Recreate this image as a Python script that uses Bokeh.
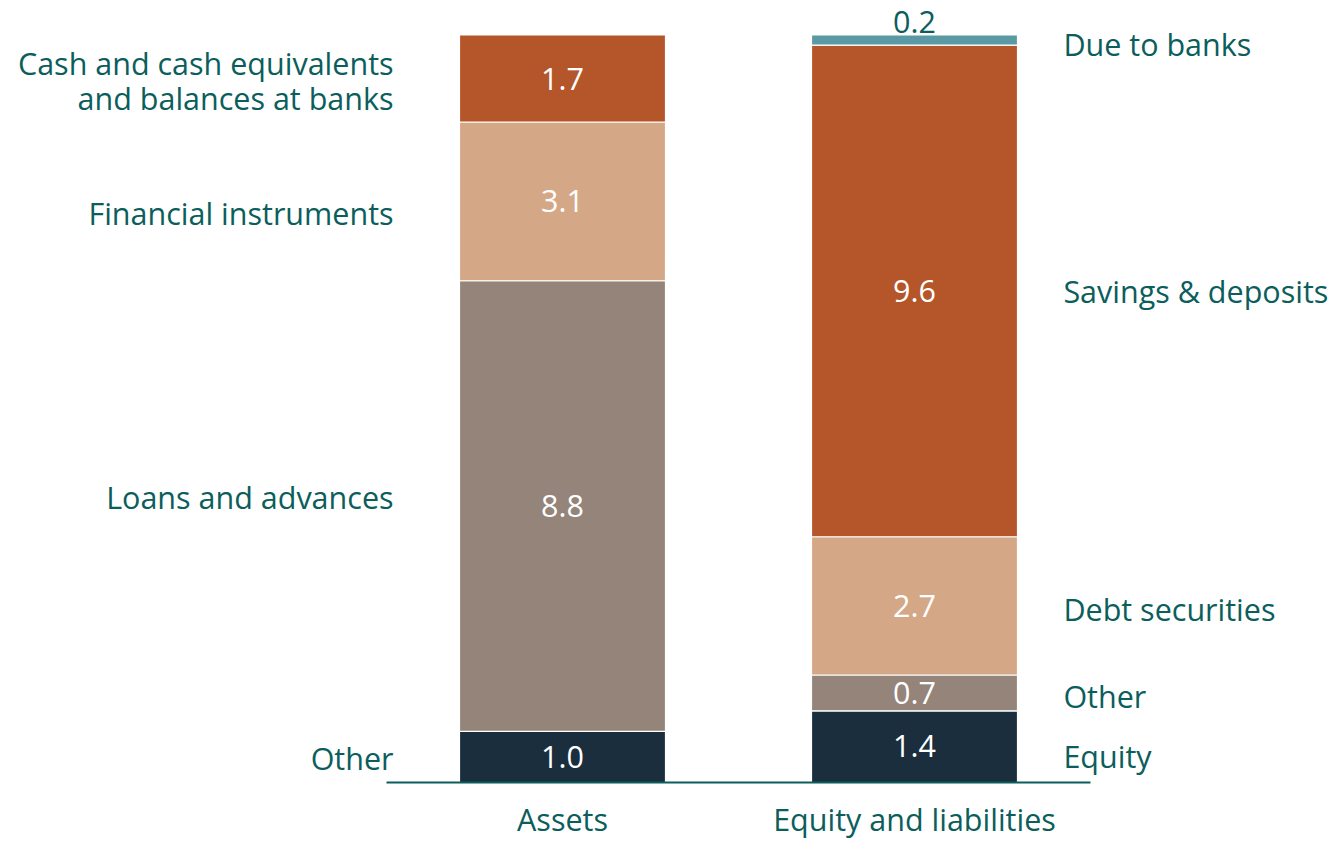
from bokeh.plotting import figure
from bokeh.models import ColumnDataSource, Range1d
from bokeh.core.properties import value
from bokeh.embed import file_html
from bokeh.resources import INLINE

categories = ["Assets", "Equity and liabilities"]

asset_items = ["Other", "Loans and advances", "Financial instruments",
               "Cash and cash equivalents\nand balances at banks"]
asset_values = [1.0, 8.8, 3.1, 1.7]
asset_colors = ["#1B2E3D", "#94847A", "#D4A886", "#B5552A"]

liab_items = ["Equity", "Other", "Debt securities", "Savings & deposits", "Due to banks"]
liab_values = [1.4, 0.7, 2.7, 9.6, 0.2]
liab_colors = ["#1B2E3D", "#94847A", "#D4A886", "#B5552A", "#5B99A5"]

TEXT = "#0B5E5C"
FONT = "Open Sans"
FS = "30.5px"

W, H = 1338, 841
px_x = 352.0   # pixels per category unit
px_y = 51.2    # pixels per value unit
x0_px, base_px = 562.0, 782.0

p = figure(width=W, height=H, output_backend="svg", toolbar_location=None,
           min_border=0, outline_line_color=None,
           x_range=Range1d(-x0_px / px_x, (W - x0_px) / px_x),
           y_range=Range1d(-(H - base_px) / px_y, base_px / px_y))
p.axis.visible = False
p.grid.visible = False
p.background_fill_color = "white"

def stack(vals):
    bottoms, tops = [], []
    acc = 0.0
    for v in vals:
        bottoms.append(acc)
        acc += v
        tops.append(acc)
    return bottoms, tops

bw = 206 / px_x

for xi, (items, vals, cols) in enumerate([(asset_items, asset_values, asset_colors),
                                          (liab_items, liab_values, liab_colors)]):
    b, t = stack(vals)
    src = ColumnDataSource(dict(x=[xi] * len(vals), bottom=b, top=t, color=cols))
    p.vbar(x="x", width=bw, bottom="bottom", top="top", fill_color="color",
           line_color="white", line_width=1.2, source=src)

def add_values(xi, vals, inside_offsets):
    b, t = stack(vals)
    for i, v in enumerate(vals):
        mid = (b[i] + t[i]) / 2
        if v < 0.5 and i == len(vals) - 1:
            p.text([xi], [t[i] + 0.04], text=[f"{v:.1f}"], text_color=TEXT,
                   text_font=value(FONT), text_font_size=FS,
                   text_align="center", text_baseline="bottom")
        else:
            p.text([xi], [mid + inside_offsets[i]], text=[f"{v:.1f}"], text_color="white",
                   text_font=value(FONT), text_font_size=FS,
                   text_align="center", text_baseline="middle")

add_values(0, asset_values, [0.0, 0.0, 0.0, 0.0])
add_values(1, liab_values, [0.02, 0.0, 0.0, 0.0, 0.0])

line_gap = 35 / px_y
ab, at = stack(asset_values)
a_off = [-0.02, 0.18, -0.22, -0.04]
for i, name in enumerate(asset_items):
    mid = (ab[i] + at[i]) / 2 + a_off[i]
    lines = name.split("\n")
    n = len(lines)
    for k, ln in enumerate(lines):
        yk = mid + ((n - 1) / 2 - k) * line_gap
        p.text([-0.48], [yk], text=[ln], text_color=TEXT, text_font=value(FONT),
               text_font_size=FS, text_align="right", text_baseline="middle")

lb, lt = stack(liab_values)
l_off = [-0.19, -0.06, -0.06, 0.0, -0.07]
for i, name in enumerate(liab_items):
    mid = (lb[i] + lt[i]) / 2 + l_off[i]
    p.text([1.423], [mid], text=[name], text_color=TEXT, text_font=value(FONT),
           text_font_size=FS, text_align="left", text_baseline="middle")

p.segment(x0=[-0.5], y0=[0], x1=[1.5], y1=[0], line_color=TEXT, line_width=2)

p.text(x=[0, 1], y=[-0.71] * 2, text=categories, text_color=TEXT, text_font=value(FONT),
       text_font_size=FS, text_align="center", text_baseline="middle")

open("out.html", "w").write(file_html(p, INLINE))
